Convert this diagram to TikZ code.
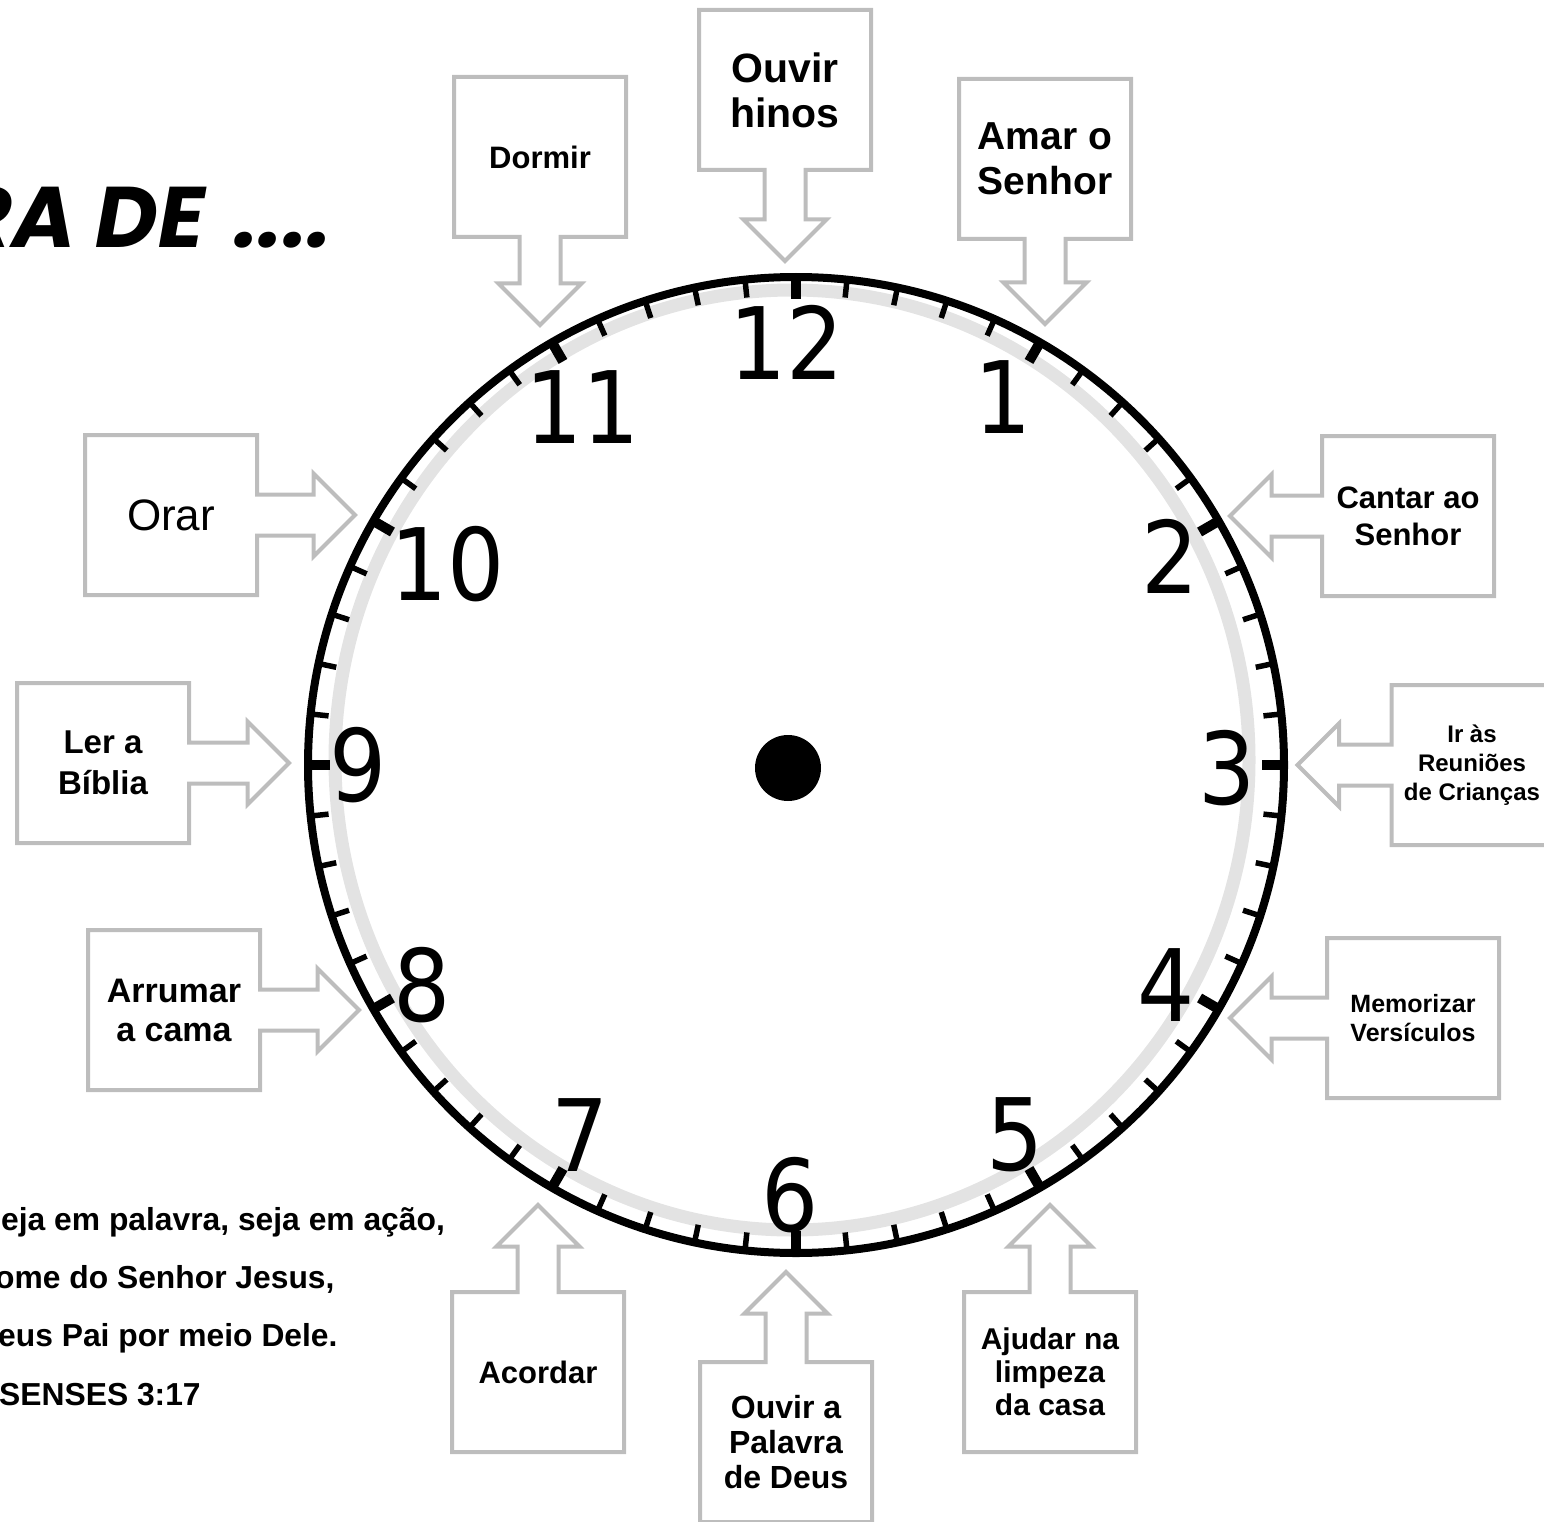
\documentclass[tikz,border=0pt]{standalone}
\usepackage{fontspec}
\setmainfont{Liberation Sans}
\newfontfamily\clockfont{DejaVu Sans Condensed}
\newfontfamily\titlefont{Poppins}
\usetikzlibrary{shapes.arrows}

\definecolor{boxgray}{gray}{0.74}
\definecolor{ringgray}{gray}{0.89}

\tikzset{
  tarefa/.style={arrow box, draw=boxgray, line width=4pt, fill=white,
    inner sep=0pt, minimum width=172pt, minimum height=160pt,
    arrow box shaft width=41pt, arrow box head extend=21pt,
    arrow box tip angle=90, align=center},
  numero/.style={font=\clockfont\fontsize{100}{100}\selectfont, inner sep=0pt},
  verso/.style={anchor=base west, inner sep=0pt, font=\bfseries\fontsize{31.8}{32}\selectfont},
}

\begin{document}
\begin{tikzpicture}[x=1pt, y=-1pt]
\useasboundingbox (0,0) rectangle (1544,1522);

% titulo e versiculo
\node[anchor=base east, inner sep=0pt, font=\titlefont\bfseries\itshape\fontsize{86}{86}\selectfont] (titulo) at (332,248) {RA DE\hspace{30pt}....};
\node[verso] (v1) at (1,1230) {eja em palavra, seja em ação,};
\node[verso] (v2) at (-5,1288) {ome do Senhor Jesus,};
\node[verso] (v3) at (-2,1346) {eus Pai por meio Dele.};
\node[verso] (v4) at (-1,1405) {SENSES 3:17};

% relogio
\draw[ringgray, line width=13pt] (792,760) ellipse [x radius=457pt, y radius=470pt];
\draw[line width=8pt] (796,765) circle [radius=488pt];
\foreach \m in {0,...,59}
  \draw[line width=5.5pt, shift={(796,765)}] ({6*\m-90}:490) -- ({6*\m-90}:470);
\foreach \h in {0,...,11}
  \draw[line width=10pt, shift={(796,765)}] ({30*\h-90}:490) -- ({30*\h-90}:466);

\node[numero] (h12) at (787,342) {12};
\node[numero] (h1) at (1003,397) {1};
\node[numero] (h2) at (1170,556) {2};
\node[numero] (h3) at (1227,768) {3};
\node[numero] (h4) at (1166,985) {4};
\node[numero] (h5) at (1015,1135) {5};
\node[numero] (h6) at (790,1195) {6};
\node[numero] (h7) at (580,1135) {7};
\node[numero] (h8) at (422,985) {8};
\node[numero] (h9) at (358,765) {9};
\node[numero] (h10) at (448,564) {10};
\node[numero] (h11) at (583,407) {11};
\node[circle, fill, inner sep=0pt, minimum size=66pt] (eixo) at (788,768) {};

% tarefas
\node[tarefa, arrow box arrows={south:86pt}, font=\bfseries\fontsize{31}{37}\selectfont] (dormir) at (540,157) {Dormir};
\node[tarefa, arrow box arrows={south:89pt}, font=\bfseries\fontsize{41}{45}\selectfont] (hinos) at (785,90) {Ouvir\\hinos};
\node[tarefa, arrow box arrows={south:83pt}, font=\bfseries\fontsize{39}{45}\selectfont] (amar) at (1045,159) {Amar o\\Senhor};
\node[tarefa, arrow box arrows={east:96pt}, font=\fontsize{44}{50}\selectfont] (orar) at (171,515) {Orar};
\node[tarefa, arrow box arrows={west:90pt}, font=\bfseries\fontsize{31}{37}\selectfont] (cantar) at (1408,516) {Cantar ao\\Senhor};
\node[tarefa, arrow box arrows={west:92pt}, minimum width=161pt, font=\bfseries\fontsize{24}{29}\selectfont] (reunioes) at (1472,765) {Ir às\\Reuniões\\de Crianças};
\node[tarefa, arrow box arrows={east:98pt}, font=\bfseries\fontsize{33}{41}\selectfont] (biblia) at (103,763) {Ler a\\Bíblia};
\node[tarefa, arrow box arrows={east:97pt}, font=\bfseries\fontsize{34}{39}\selectfont] (cama) at (174,1010) {Arrumar\\a cama};
\node[tarefa, arrow box arrows={west:95pt}, font=\bfseries\fontsize{25}{29}\selectfont] (versiculos) at (1413,1018) {Memorizar\\Versículos};
\node[tarefa, arrow box arrows={north:85pt}, font=\bfseries\fontsize{31}{37}\selectfont] (acordar) at (538,1372) {Acordar};
\node[tarefa, arrow box arrows={north:88pt}, font=\bfseries\fontsize{32}{35}\selectfont] (palavra) at (786,1442) {Ouvir a\\Palavra\\de Deus};
\node[tarefa, arrow box arrows={north:85pt}, font=\bfseries\fontsize{30}{33}\selectfont] (limpeza) at (1050,1372) {Ajudar na\\limpeza\\da casa};

\end{tikzpicture}
\end{document}
